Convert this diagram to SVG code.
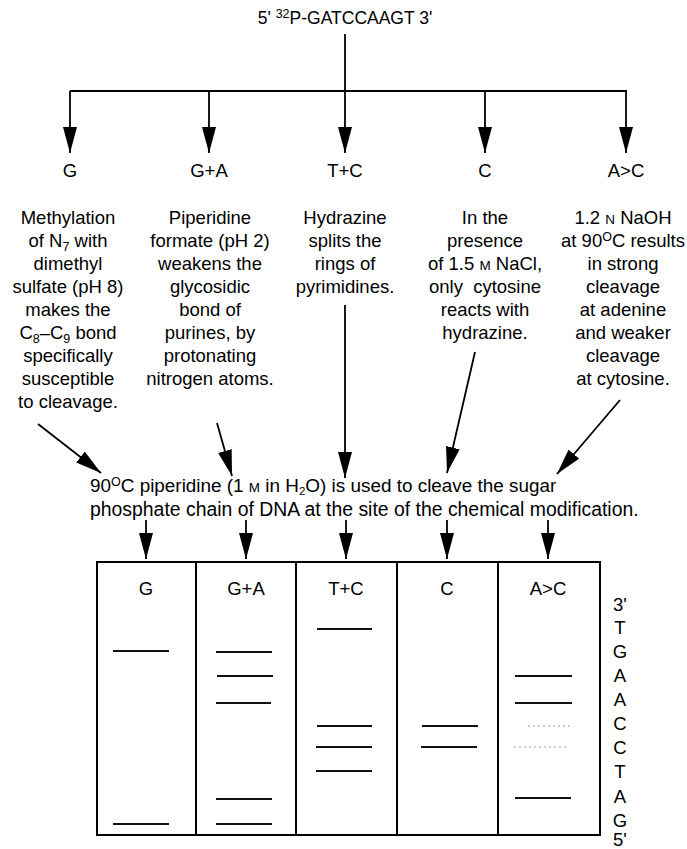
<svg xmlns="http://www.w3.org/2000/svg" width="687" height="849" viewBox="0 0 687 849">
<style>
text{font-family:"Liberation Sans",Arial,Helvetica,sans-serif;fill:#000}
.t{font-size:18.5px;text-anchor:middle}
.h{font-size:17.5px;text-anchor:middle}
.s{font-size:12.5px}
.ss{font-size:11.5px}
.sc{font-size:13.5px}
.p{font-size:19.4px}
.p1{font-size:18.9px}
.ln{stroke:#000;stroke-width:1.8;fill:none}
.band{stroke:#111;stroke-width:2}
.faint{stroke:#999;stroke-width:1;stroke-dasharray:2 3}
.gel{stroke:#000;stroke-width:2;fill:none}
</style>
<defs>
<marker id="ah" viewBox="0 0 26 14" markerWidth="26" markerHeight="14" refX="26" refY="7" orient="auto" markerUnits="userSpaceOnUse">
<path d="M0,0 L26,7 L0,14 Z" fill="#000"/>
</marker>
</defs>

<g id="title">
<text class="h" x="345" y="24">5' <tspan class="s" dy="-6">32</tspan><tspan dy="6">P-GATCCAAGT 3'</tspan></text>
</g>

<g id="connectors">
<path class="ln" d="M345,34 V91 M70,91 H627"/>
<line class="ln" x1="70" y1="91" x2="70" y2="153" marker-end="url(#ah)"/>
<line class="ln" x1="209" y1="91" x2="209" y2="153" marker-end="url(#ah)"/>
<line class="ln" x1="345" y1="91" x2="345" y2="153" marker-end="url(#ah)"/>
<line class="ln" x1="485" y1="91" x2="485" y2="153" marker-end="url(#ah)"/>
<line class="ln" x1="626" y1="91" x2="626" y2="153" marker-end="url(#ah)"/>
<line class="ln" x1="38" y1="424" x2="101" y2="473" marker-end="url(#ah)"/>
<line class="ln" x1="217" y1="423" x2="232" y2="476" marker-end="url(#ah)"/>
<line class="ln" x1="345" y1="305" x2="345" y2="478" marker-end="url(#ah)"/>
<line class="ln" x1="475" y1="352" x2="447" y2="473" marker-end="url(#ah)"/>
<line class="ln" x1="620" y1="400" x2="557" y2="474" marker-end="url(#ah)"/>
<line class="ln" x1="146" y1="520" x2="146" y2="559" marker-end="url(#ah)"/>
<line class="ln" x1="246" y1="520" x2="246" y2="559" marker-end="url(#ah)"/>
<line class="ln" x1="346" y1="520" x2="346" y2="559" marker-end="url(#ah)"/>
<line class="ln" x1="447" y1="520" x2="447" y2="559" marker-end="url(#ah)"/>
<line class="ln" x1="548" y1="520" x2="548" y2="559" marker-end="url(#ah)"/>
</g>

<g id="labels">
<text class="t" x="70" y="177">G</text>
<text class="t" x="209" y="177">G+A</text>
<text class="t" x="345" y="177">T+C</text>
<text class="t" x="485" y="177">C</text>
<text class="t" x="626" y="177">A&gt;C</text>
</g>

<g id="col-G">
<text class="t" x="68" y="224">Methylation</text>
<text class="t" x="68" y="247">of N<tspan class="s" dy="4">7</tspan><tspan dy="-4"> with</tspan></text>
<text class="t" x="68" y="270">dimethyl</text>
<text class="t" x="68" y="293">sulfate (pH 8)</text>
<text class="t" x="68" y="316">makes the</text>
<text class="t" x="68" y="339">C<tspan class="s" dy="4">8</tspan><tspan dy="-4">–C</tspan><tspan class="s" dy="4">9</tspan><tspan dy="-4"> bond</tspan></text>
<text class="t" x="68" y="362">specifically</text>
<text class="t" x="68" y="385">susceptible</text>
<text class="t" x="68" y="408">to cleavage.</text>
</g>

<g id="col-GA">
<text class="t" x="210" y="224">Piperidine</text>
<text class="t" x="210" y="247">formate (pH 2)</text>
<text class="t" x="210" y="270">weakens the</text>
<text class="t" x="210" y="293">glycosidic</text>
<text class="t" x="210" y="316">bond of</text>
<text class="t" x="210" y="339">purines, by</text>
<text class="t" x="210" y="362">protonating</text>
<text class="t" x="210" y="385">nitrogen atoms.</text>
</g>

<g id="col-TC">
<text class="t" x="345" y="224">Hydrazine</text>
<text class="t" x="345" y="247">splits the</text>
<text class="t" x="345" y="270">rings of</text>
<text class="t" x="345" y="293">pyrimidines.</text>
</g>

<g id="col-C">
<text class="t" x="485" y="224">In the</text>
<text class="t" x="485" y="247">presence</text>
<text class="t" x="485" y="270">of 1.5 <tspan class="sc">M</tspan> NaCl,</text>
<text class="t" x="485" y="293" xml:space="preserve">only  cytosine</text>
<text class="t" x="485" y="316">reacts with</text>
<text class="t" x="485" y="339">hydrazine.</text>
</g>

<g id="col-AC">
<text class="t" x="623" y="224">1.2 <tspan class="sc">N</tspan> NaOH</text>
<text class="t" x="623" y="247">at 90<tspan class="s" dy="-6">O</tspan><tspan dy="6">C results</tspan></text>
<text class="t" x="623" y="270">in strong</text>
<text class="t" x="623" y="293">cleavage</text>
<text class="t" x="623" y="316">at adenine</text>
<text class="t" x="623" y="339">and weaker</text>
<text class="t" x="623" y="362">cleavage</text>
<text class="t" x="623" y="385">at cytosine.</text>
</g>

<g id="piperidine">
<text class="p1" x="90" y="492">90<tspan class="s" dy="-6">O</tspan><tspan dy="6">C piperidine (1 </tspan><tspan class="sc">M</tspan> in H<tspan class="ss" dy="3">2</tspan><tspan dy="-3">O) is used to cleave the sugar</tspan></text>
<text class="p" x="90" y="516">phosphate chain of DNA at the site of the chemical modification.</text>
</g>

<g id="gel">
<rect class="gel" x="97" y="562" width="503" height="273"/>
<path class="gel" d="M196,562 V835 M296,562 V835 M397,562 V835 M498,562 V835"/>
<text class="t" x="146" y="595">G</text>
<text class="t" x="246" y="595">G+A</text>
<text class="t" x="346" y="595">T+C</text>
<text class="t" x="447" y="595">C</text>
<text class="t" x="548" y="595">A&gt;C</text>
<g id="bands">
<line class="band" x1="113" y1="651" x2="169" y2="651"/>
<line class="band" x1="113" y1="824" x2="169" y2="824"/>
<line class="band" x1="216" y1="652" x2="272" y2="652"/>
<line class="band" x1="217" y1="676" x2="273" y2="676"/>
<line class="band" x1="216" y1="703" x2="271" y2="703"/>
<line class="band" x1="216" y1="799" x2="272" y2="799"/>
<line class="band" x1="216" y1="824" x2="272" y2="824"/>
<line class="band" x1="317" y1="629" x2="372" y2="629"/>
<line class="band" x1="317" y1="726" x2="372" y2="726"/>
<line class="band" x1="316" y1="747" x2="372" y2="747"/>
<line class="band" x1="316" y1="771" x2="372" y2="771"/>
<line class="band" x1="422" y1="726" x2="478" y2="726"/>
<line class="band" x1="421" y1="747" x2="477" y2="747"/>
<line class="band" x1="515" y1="676" x2="572" y2="676"/>
<line class="band" x1="515" y1="703" x2="572" y2="703"/>
<line class="faint" x1="528" y1="726" x2="570" y2="726"/>
<line class="faint" x1="514" y1="747" x2="568" y2="747"/>
<line class="band" x1="515" y1="798" x2="571" y2="798"/>
</g>
</g>

<g id="sequence">
<text class="t" x="620" y="611">3'</text>
<text class="t" x="620" y="634">T</text>
<text class="t" x="620" y="658">G</text>
<text class="t" x="620" y="682">A</text>
<text class="t" x="620" y="706">A</text>
<text class="t" x="620" y="730">C</text>
<text class="t" x="620" y="754">C</text>
<text class="t" x="620" y="778">T</text>
<text class="t" x="620" y="803">A</text>
<text class="t" x="620" y="827">G</text>
<text class="t" x="620" y="846">5'</text>
</g>
</svg>
